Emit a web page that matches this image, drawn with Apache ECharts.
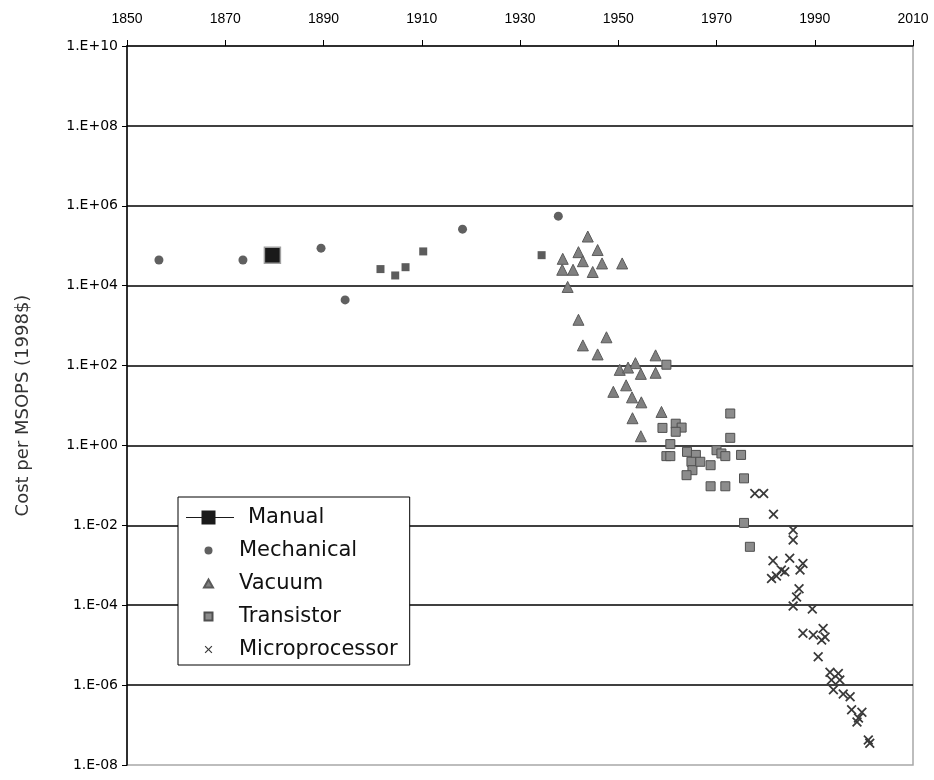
<!DOCTYPE html>
<html><head><meta charset="utf-8">
<script src="https://cdn.jsdelivr.net/npm/echarts@6/dist/echarts.min.js"></script>
<style>html,body{margin:0;padding:0;background:#fff}#c{width:934px;height:780px}</style>
</head><body><div id="c"></div>
<script>
// ---- data: [year, cost per MSOPS (1998$)] ----
const yTickLabels = ['1.E-08','1.E-06','1.E-04','1.E-02','1.E+00','1.E+02','1.E+04','1.E+06','1.E+08','1.E+10'];
const seriesNames = ['Manual','Mechanical','Vacuum','Transistor','Microprocessor'];
const manual = [[1879.6, 5.8e4]];
const mechanical = [[1856.5,4.4e4],[1873.6,4.4e4],[1889.5,8.7e4],[1894.4,4.4e3],[1918.3,2.6e5],[1937.8,5.5e5]];
const electromechanical = [[1901.6,2.6e4],[1904.6,1.8e4],[1906.7,2.9e4],[1910.3,7.2e4],[1934.4,5.8e4]];
const vacuum = [[1943.8,1.7e5],[1945.8,7.8e4],[1938.7,4.7e4],[1941.9,6.9e4],[1942.8,4.1e4],[1946.7,3.6e4],
  [1950.8,3.6e4],[1938.6,2.5e4],[1940.8,2.5e4],[1944.8,2.2e4],[1939.7,9.3e3],[1941.9,1.4e3],[1947.6,510],
  [1942.8,320],[1945.8,190],[1957.6,180],[1953.5,115],[1950.3,78],[1952.0,89],[1954.6,62],[1957.6,66],
  [1951.6,32],[1949.0,22],[1952.8,16],[1954.7,12],[1958.8,6.9],[1952.9,4.8],[1954.6,1.7]];
const transistor = [[1959.8,105],[1972.8,6.3],[1959.0,2.75],[1961.7,3.5],[1962.9,2.8],[1961.7,2.2],[1972.8,1.55],
  [1960.6,1.08],[1959.8,0.54],[1960.6,0.54],[1964.0,0.69],[1965.8,0.58],[1970.0,0.76],[1971.0,0.63],[1971.8,0.54],
  [1975.0,0.58],[1964.9,0.39],[1965.1,0.24],[1966.7,0.39],[1968.8,0.32],[1963.9,0.18],[1975.6,0.15],
  [1968.8,0.095],[1971.8,0.095],[1975.6,0.0115],[1976.8,0.0029]];
const microprocessor = [[1977.8,0.063],[1979.6,0.063],[1981.6,0.019],[1981.5,1.3e-3],[1985.6,7.6e-3],[1985.6,4.3e-3],
  [1984.9,1.5e-3],[1987.6,1.1e-3],[1983.2,7.6e-4],[1981.2,4.7e-4],[1982.2,5.4e-4],[1983.9,6.9e-4],[1987.0,7.6e-4],
  [1986.8,2.6e-4],[1986.3,1.6e-4],[1985.6,9.5e-5],[1989.5,8.1e-5],[1987.6,2.0e-5],[1989.7,1.8e-5],[1991.7,2.6e-5],
  [1992.1,1.6e-5],[1991.4,1.35e-5],[1990.7,5.1e-6],[1993.1,2.1e-6],[1994.8,1.95e-6],[1993.4,1.35e-6],[1995.1,1.35e-6],
  [1993.8,7.6e-7],[1995.8,6.0e-7],[1997.2,5.1e-7],[1997.5,2.4e-7],[1999.6,2.1e-7],[1998.9,1.5e-7],[1998.6,1.2e-7],
  [2000.9,4.2e-8],[2001.2,3.5e-8]];

// ---- helpers ----
const toLog = arr => arr.map(d => [d[0], Math.log10(d[1])]);
const FONT = '"Liberation Sans", Arial, sans-serif';
const WFONT = '"DejaVu Sans", "Liberation Sans", sans-serif';
// X-shaped polygon, centred at (cx,cy), half size h, arm thickness t (in 0..10 units)
function xShape(cx, cy, h, t) {
  const s = h / 5, ox = cx - h, oy = cy - h;
  const p = [[0,t],[t,0],[5,5-t],[10-t,0],[10,t],[5+t,5],[10,10-t],[10-t,10],[5,5+t],[t,10],[0,10-t],[5-t,5]];
  return 'M' + p.map(q => (ox + q[0]*s).toFixed(2) + ',' + (oy + q[1]*s).toFixed(2)).join('L') + 'Z';
}
const IW = 48, IH = 15, GX = 22.5, GY = 7.5;   // legend icon box and glyph centre
const frame = 'M0,0 M' + IW + ',' + IH + ' ';
const iconManual = 'path://' + frame + 'M0,7L15.5,7L15.5,0.5L29.5,0.5L29.5,7L48,7L48,8L29.5,8L29.5,14.5L15.5,14.5L15.5,8L0,8Z';
const iconCircle = 'path://' + frame + `M${GX+4},${GY} A4,4 0 1,1 ${GX-4},${GY} A4,4 0 1,1 ${GX+4},${GY} Z`;
const iconTri = 'path://' + frame + `M${GX},${GY-4} L${GX+4.5},${GY+4} L${GX-4.5},${GY+4} Z`;
const iconSq = 'path://' + frame + `M${GX-4},${GY-4} L${GX+4},${GY-4} L${GX+4},${GY+4} L${GX-4},${GY+4} Z`;
const iconX = 'path://' + frame + xShape(GX, GY, 3.8, 1.1);
const xSymbol = 'path://' + xShape(5, 5, 5, 1.25);

const chart = echarts.init(document.getElementById('c'), null, {renderer: 'canvas'});
chart.setOption({
  animation: false,
  backgroundColor: '#fff',
  grid: {left: 127, right: 21, top: 46, bottom: 15, show: true, borderColor: '#a8a8a8', borderWidth: 1.5, backgroundColor: 'transparent'},
  xAxis: {
    type: 'value', position: 'top', min: 1850, max: 2010, interval: 20,
    axisLine: {show: true, onZero: false, lineStyle: {color: '#000', width: 1.5}},
    axisTick: {show: true, inside: false, length: 6, lineStyle: {color: '#000', width: 1}},
    axisLabel: {margin: 20, fontFamily: FONT, fontSize: 14, color: '#000', formatter: v => String(v)},
    splitLine: {show: false}
  },
  yAxis: {
    type: 'value', min: -8, max: 10, interval: 2,
    name: 'Cost per MSOPS (1998$)', nameLocation: 'middle', nameGap: 95, nameRotate: 90,
    nameTextStyle: {fontFamily: WFONT, fontSize: 18, color: '#333'},
    axisLine: {show: true, onZero: false, lineStyle: {color: '#000', width: 1.5}},
    axisTick: {show: true, inside: false, length: 5, lineStyle: {color: '#000', width: 1}},
    axisLabel: {margin: 9, fontFamily: WFONT, fontSize: 14, color: '#000',
      formatter: v => yTickLabels[Math.round((v + 8) / 2)]},
    splitLine: {show: true, showMinLine: false, showMaxLine: false, lineStyle: {color: '#000', width: 1.5}}
  },
  legend: {
    orient: 'vertical', left: 178, top: 497, padding: [10, 12, 5, 7],
    itemWidth: IW, itemHeight: IH, itemGap: 12,
    backgroundColor: '#fff', borderColor: '#000', borderWidth: 1, borderRadius: 0,
    selectedMode: false,
    textStyle: {fontFamily: WFONT, fontSize: 21, color: '#111', rich: {m: {fontFamily: WFONT, fontSize: 21, color: '#111', padding: [0,0,0,9]}}},
    formatter: n => n === 'Manual' ? '{m|Manual}' : n,
    data: [
      {name: seriesNames[0], icon: iconManual, itemStyle: {color: '#1a1a1a', borderWidth: 0}},
      {name: seriesNames[1], icon: iconCircle, itemStyle: {borderWidth: 0}},
      {name: seriesNames[2], icon: iconTri},
      {name: seriesNames[3], icon: iconSq},
      {name: seriesNames[4], icon: iconX, itemStyle: {borderWidth: 0}}
    ]
  },
  series: [
    {name: 'Electromechanical', type: 'scatter', data: toLog(electromechanical), symbol: 'rect', symbolSize: 8,
      itemStyle: {color: '#5c5c5c', opacity: 1}},
    {name: seriesNames[1], type: 'scatter', data: toLog(mechanical), symbol: 'circle', symbolSize: 9,
      itemStyle: {color: '#606060', opacity: 1}},
    {name: seriesNames[2], type: 'scatter', data: toLog(vacuum), symbol: 'triangle', symbolSize: [11, 11],
      itemStyle: {color: '#808080', borderColor: '#5a5a5a', borderWidth: 1, opacity: 1}},
    {name: seriesNames[3], type: 'scatter', data: toLog(transistor), symbol: 'rect', symbolSize: 9,
      itemStyle: {color: '#8c8c8c', borderColor: '#4f4f4f', borderWidth: 1, opacity: 1}},
    {name: seriesNames[4], type: 'scatter', data: toLog(microprocessor), symbol: xSymbol, symbolSize: 10,
      itemStyle: {color: '#3a3a3a', opacity: 1}},
    {name: seriesNames[0], type: 'scatter', data: toLog(manual), symbol: 'rect', symbolSize: 16,
      itemStyle: {color: '#1a1a1a', borderColor: '#a0a0a0', borderWidth: 1.5, opacity: 1}}
  ]
});
</script></body></html>
